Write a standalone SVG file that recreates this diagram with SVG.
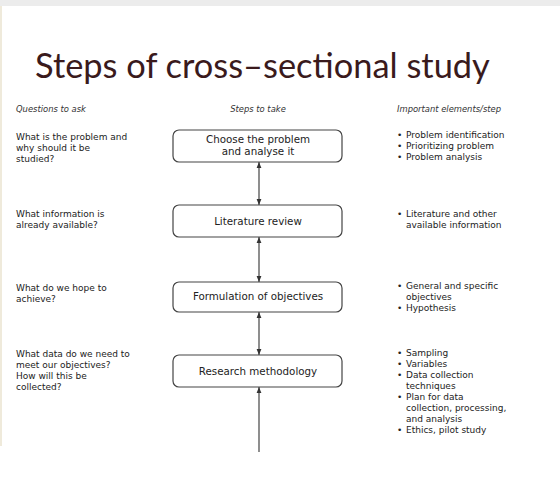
<svg xmlns="http://www.w3.org/2000/svg" width="560" height="477" viewBox="0 0 560 477">
  <defs>
    <marker id="arrow" viewBox="0 0 10 10" refX="10" refY="5" markerWidth="6" markerHeight="6" orient="auto-start-reverse" markerUnits="userSpaceOnUse">
      <path d="M0,1 L10,5 L0,9 z" fill="#333"/>
    </marker>
    <style>
      .title { font-family: "Lato", "Open Sans", sans-serif; font-size: 34.4px; fill: #3a1a1c; }
      .head { font-family: "DejaVu Sans", Verdana, sans-serif; font-size: 8.4px; font-style: italic; fill: #333; }
      .txt { font-family: "DejaVu Sans", Verdana, sans-serif; font-size: 9px; fill: #222; }
      .box { fill: #fff; stroke: #444; stroke-width: 1.2; }
      .btxt { font-family: "DejaVu Sans", Verdana, sans-serif; font-size: 10.3px; fill: #222; text-anchor: middle; }
      .link { stroke: #444; stroke-width: 1.2; fill: none; }
    </style>
  </defs>

  <!-- page frame -->
  <rect x="0" y="0" width="560" height="477" fill="#fff"/>
  <rect x="0" y="0" width="560" height="6" fill="#ececec"/>
  <rect x="0" y="6" width="2" height="440" fill="#efeadb"/>

  <!-- title -->
  <text class="title" x="35" y="78">Steps of cross–sectional study</text>

  <!-- column headings -->
  <text class="head" x="16" y="112">Questions to ask</text>
  <text class="head" x="258" y="112" text-anchor="middle">Steps to take</text>
  <text class="head" x="397" y="112">Important elements/step</text>

  <!-- questions -->
  <g id="questions">
    <text class="txt" x="16" y="140">What is the problem and</text>
    <text class="txt" x="16" y="151">why should it be</text>
    <text class="txt" x="16" y="162">studied?</text>

    <text class="txt" x="16" y="217">What information is</text>
    <text class="txt" x="16" y="228">already available?</text>

    <text class="txt" x="16" y="291">What do we hope to</text>
    <text class="txt" x="16" y="302">achieve?</text>

    <text class="txt" x="16" y="357">What data do we need to</text>
    <text class="txt" x="16" y="368">meet our objectives?</text>
    <text class="txt" x="16" y="379">How will this be</text>
    <text class="txt" x="16" y="390">collected?</text>
  </g>

  <!-- connectors -->
  <g id="connectors">
    <line class="link" x1="259" y1="162" x2="259" y2="205" marker-start="url(#arrow)" marker-end="url(#arrow)"/>
    <line class="link" x1="259" y1="237" x2="259" y2="282" marker-start="url(#arrow)" marker-end="url(#arrow)"/>
    <line class="link" x1="259" y1="312" x2="259" y2="355" marker-start="url(#arrow)" marker-end="url(#arrow)"/>
    <line class="link" x1="259" y1="452" x2="259" y2="387" marker-end="url(#arrow)"/>
  </g>

  <!-- steps -->
  <g id="step1">
    <rect class="box" x="173" y="130" width="169" height="32" rx="6"/>
    <text class="btxt" x="258" y="143">Choose the problem</text>
    <text class="btxt" x="258" y="155">and analyse it</text>
  </g>
  <g id="step2">
    <rect class="box" x="173" y="205" width="169" height="32" rx="6"/>
    <text class="btxt" x="258" y="225">Literature review</text>
  </g>
  <g id="step3">
    <rect class="box" x="173" y="282" width="169" height="30" rx="6"/>
    <text class="btxt" x="258" y="300">Formulation of objectives</text>
  </g>
  <g id="step4">
    <rect class="box" x="173" y="355" width="169" height="32" rx="6"/>
    <text class="btxt" x="258" y="375">Research methodology</text>
  </g>

  <!-- elements -->
  <g id="elements">
    <text class="txt" x="397" y="138">•</text><text class="txt" x="406" y="138">Problem identification</text>
    <text class="txt" x="397" y="149">•</text><text class="txt" x="406" y="149">Prioritizing problem</text>
    <text class="txt" x="397" y="160">•</text><text class="txt" x="406" y="160">Problem analysis</text>

    <text class="txt" x="397" y="217">•</text><text class="txt" x="406" y="217">Literature and other</text>
    <text class="txt" x="406" y="228">available information</text>

    <text class="txt" x="397" y="289">•</text><text class="txt" x="406" y="289">General and specific</text>
    <text class="txt" x="406" y="300">objectives</text>
    <text class="txt" x="397" y="311">•</text><text class="txt" x="406" y="311">Hypothesis</text>

    <text class="txt" x="397" y="356">•</text><text class="txt" x="406" y="356">Sampling</text>
    <text class="txt" x="397" y="367">•</text><text class="txt" x="406" y="367">Variables</text>
    <text class="txt" x="397" y="378">•</text><text class="txt" x="406" y="378">Data collection</text>
    <text class="txt" x="406" y="389">techniques</text>
    <text class="txt" x="397" y="400">•</text><text class="txt" x="406" y="400">Plan for data</text>
    <text class="txt" x="406" y="411">collection, processing,</text>
    <text class="txt" x="406" y="422">and analysis</text>
    <text class="txt" x="397" y="433">•</text><text class="txt" x="406" y="433">Ethics, pilot study</text>
  </g>
</svg>
